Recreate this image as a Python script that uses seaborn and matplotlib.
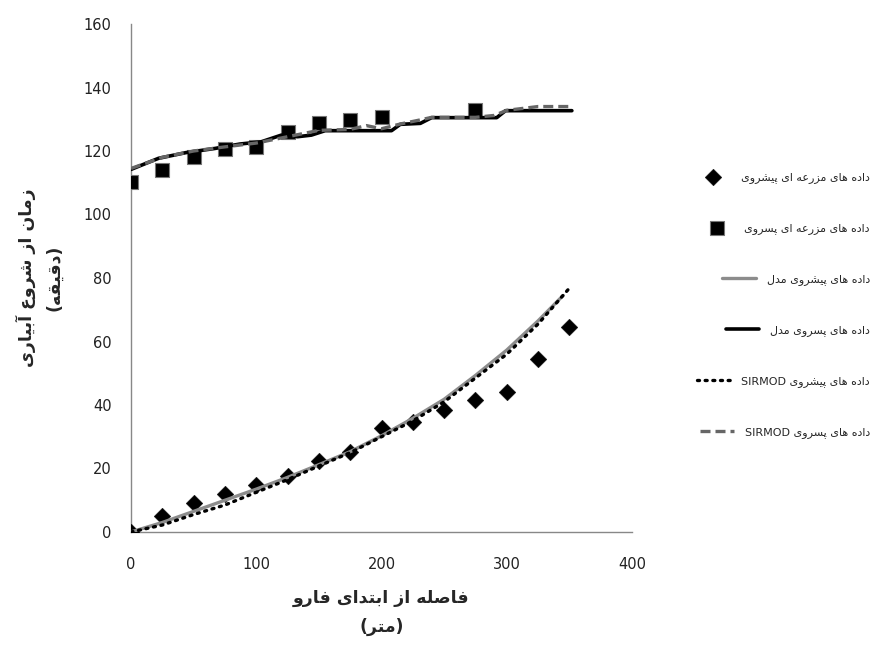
import matplotlib
matplotlib.use("Agg")
import matplotlib.pyplot as plt
import seaborn as sns

# ---------------- data ----------------
adv_field_x = [0, 25, 50, 75, 100, 125, 150, 175, 200, 225, 250, 275, 300, 325, 350]
adv_field_y = [0, 5.0, 9.0, 12.0, 14.8, 17.5, 22.4, 25.3, 32.6, 34.8, 38.5, 41.7, 44.1, 54.5, 64.6]

rec_field_x = [0, 25, 50, 75, 100, 125, 150, 175, 200, 275]
rec_field_y = [110.1, 114.0, 118.1, 120.7, 121.3, 126.1, 128.8, 129.8, 130.6, 133.0]

adv_model_x = [0, 25, 50, 75, 100, 125, 150, 175, 200, 225, 250, 275, 300, 325, 345]
adv_model_y = [0, 3.0, 6.5, 10.0, 13.5, 17.2, 21.2, 25.3, 30.3, 35.8, 41.8, 49.3, 57.3, 66.5, 74.5]

rec_model_x = [0, 22, 44, 67, 87, 104, 120, 133, 144, 155, 208, 215, 231, 240, 292, 299, 352]
rec_model_y = [114.2, 117.7, 119.5, 120.8, 122.2, 122.9, 125.0, 124.5, 125.0, 126.4, 126.4,
               128.4, 128.7, 130.5, 130.5, 132.7, 132.7]

adv_sirmod_x = [0, 25, 50, 75, 100, 125, 150, 175, 200, 225, 250, 275, 300, 325, 350]
adv_sirmod_y = [0, 2.2, 5.5, 8.5, 12.5, 16.5, 20.8, 25.0, 30.0, 35.0, 41.0, 48.5, 56.0, 65.5, 76.8]

rec_sirmod_x = [0, 25, 50, 75, 100, 125, 150, 175, 188, 200, 215, 231, 240, 275, 290, 300, 325, 350]
rec_sirmod_y = [114.5, 118.0, 120.0, 121.3, 122.5, 124.5, 126.5, 126.8, 128.0, 127.0, 128.5,
                129.8, 130.6, 130.6, 131.2, 132.8, 134.0, 134.0]

series_labels = [
    "داده های مزرعه ای پیشروی",
    "داده های مزرعه ای پسروی",
    "داده های پیشروی مدل",
    "داده های پسروی مدل",
    "داده های پیشروی SIRMOD",
    "داده های پسروی SIRMOD",
]
x_label = ["فاصله از ابتدای فارو", "(متر)"]
y_label = ["زمان از شروع آبیاری", "(دقیقه)"]
x_ticks = [0, 100, 200, 300, 400]
y_ticks = [0, 20, 40, 60, 80, 100, 120, 140, 160]

# ---------------- Persian shaping (visual order for matplotlib) ----------------
RIGHT_JOIN = set("اآدذرزژو")
FORMS = {
    "ا": ("\uFE8D", "\uFE8E", None, None),
    "آ": ("\uFE81", "\uFE82", None, None),
    "ب": ("\uFE8F", "\uFE90", "\uFE91", "\uFE92"),
    "پ": ("\uFB56", "\uFB57", "\uFB58", "\uFB59"),
    "ت": ("\uFE95", "\uFE96", "\uFE97", "\uFE98"),
    "د": ("\uFEA9", "\uFEAA", None, None),
    "ر": ("\uFEAD", "\uFEAE", None, None),
    "ز": ("\uFEAF", "\uFEB0", None, None),
    "س": ("\uFEB1", "\uFEB2", "\uFEB3", "\uFEB4"),
    "ش": ("\uFEB5", "\uFEB6", "\uFEB7", "\uFEB8"),
    "ص": ("\uFEB9", "\uFEBA", "\uFEBB", "\uFEBC"),
    "ع": ("\uFEC9", "\uFECA", "\uFECB", "\uFECC"),
    "ف": ("\uFED1", "\uFED2", "\uFED3", "\uFED4"),
    "ق": ("\uFED5", "\uFED6", "\uFED7", "\uFED8"),
    "ل": ("\uFEDD", "\uFEDE", "\uFEDF", "\uFEE0"),
    "م": ("\uFEE1", "\uFEE2", "\uFEE3", "\uFEE4"),
    "ن": ("\uFEE5", "\uFEE6", "\uFEE7", "\uFEE8"),
    "ه": ("\uFEE9", "\uFEEA", "\uFEEB", "\uFEEC"),
    "و": ("\uFEED", "\uFEEE", None, None),
    "ی": ("\uFBFC", "\uFBFD", "\uFBFE", "\uFBFF"),
}


def shape_word(w):
    out = []
    for i, c in enumerate(w):
        if c not in FORMS:
            out.append(c)
            continue
        prev = w[i - 1] if i > 0 else None
        nxt = w[i + 1] if i + 1 < len(w) else None
        jp = prev in FORMS and prev not in RIGHT_JOIN
        jn = (c not in RIGHT_JOIN) and (nxt in FORMS)
        iso, fin, ini, med = FORMS[c]
        if jp and jn:
            out.append(med)
        elif jp:
            out.append(fin)
        elif jn:
            out.append(ini)
        else:
            out.append(iso)
    return "".join(out)


def visual(text):
    vis = []
    for w in text.split(" "):
        if any(c in FORMS for c in w):
            s = shape_word(w)[::-1]
            s = s.translate(str.maketrans("()", ")("))
            vis.append(s)
        else:
            vis.append(w)
    return " ".join(vis[::-1])


# ---------------- plot ----------------
sns.set_theme(style="white")
plt.rcParams["font.family"] = ["DejaVu Sans"]

fig = plt.figure(figsize=(8.81, 6.51), dpi=100)
ax = fig.add_axes([131 / 881, 1 - 532 / 651, 501 / 881, 508 / 651])

sns.scatterplot(x=adv_field_x, y=adv_field_y, ax=ax, marker="D", s=72, color="black",
                edgecolor="black", linewidth=0.3, label=visual(series_labels[0]), zorder=3)
sns.scatterplot(x=rec_field_x, y=rec_field_y, ax=ax, marker="s", s=90, color="black",
                edgecolor="#777777", linewidth=0.8, label=visual(series_labels[1]), zorder=3)
sns.lineplot(x=adv_model_x, y=adv_model_y, ax=ax, sort=False, estimator=None,
             color="#8c8c8c", linewidth=2.4, label=visual(series_labels[2]), zorder=4)
sns.lineplot(x=rec_model_x, y=rec_model_y, ax=ax, sort=False, estimator=None,
             color="black", linewidth=2.6, label=visual(series_labels[3]), zorder=4)
sns.lineplot(x=adv_sirmod_x, y=adv_sirmod_y, ax=ax, sort=False, estimator=None,
             color="black", linewidth=2.4, linestyle=(0, (0.6, 1.7)),
             dash_capstyle="round", label=visual(series_labels[4]), zorder=5)
sns.lineplot(x=rec_sirmod_x, y=rec_sirmod_y, ax=ax, sort=False, estimator=None,
             color="#666666", linewidth=2.4, linestyle=(0, (3, 1.5)),
             label=visual(series_labels[5]), zorder=5)

ax.set_xlim(0, 400)
ax.set_ylim(0, 160)
ax.set_xticks(x_ticks)
ax.set_yticks(y_ticks)
ax.tick_params(axis="both", direction="out", length=6, width=1, color="#888888",
               labelsize=10.5, labelcolor="#222222")
ax.tick_params(axis="x", pad=12)
ax.tick_params(axis="y", pad=8)
for side in ["top", "right"]:
    ax.spines[side].set_visible(False)
for side in ["left", "bottom"]:
    ax.spines[side].set_color("#888888")
    ax.spines[side].set_linewidth(1)

ax.set_xlabel("\n".join(visual(t) for t in x_label), fontsize=12.5, fontweight="bold",
              linespacing=1.8)
ax.xaxis.set_label_coords(0.5, -0.112, transform=ax.transAxes)
ax.xaxis.label.set_va("top")
ax.set_ylabel("\n".join(visual(t) for t in y_label), fontsize=12.5, fontweight="bold",
              linespacing=1.7)
ax.yaxis.set_label_coords(-0.135, 0.5, transform=ax.transAxes)

leg = ax.legend(loc="center right", bbox_to_anchor=(880 / 881, 0.531),
                bbox_transform=fig.transFigure, frameon=False, fontsize=8,
                labelspacing=3.6, handlelength=3.0, handletextpad=1.0, markerscale=1.0)
# right-align the legend rows (key sits just before its text, rows flush right)
for col in leg._legend_handle_box.get_children():
    col.align = "right"

fig.savefig("out.png", dpi=100)
